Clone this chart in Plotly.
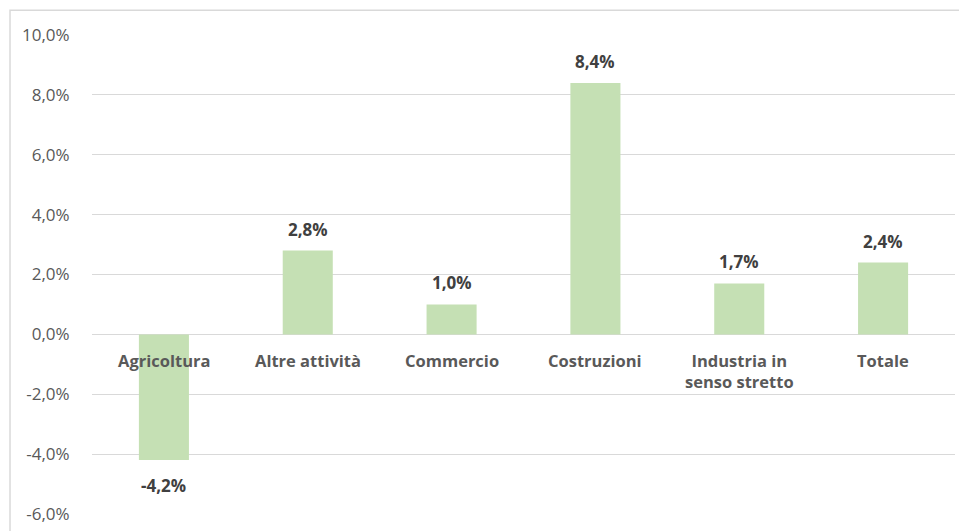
import plotly.graph_objects as go

categories = ["Agricoltura", "Altre attività", "Commercio", "Costruzioni", "Industria in<br>senso stretto", "Totale"]
values = [-4.2, 2.8, 1.0, 8.4, 1.7, 2.4]
tick_vals = [-6, -4, -2, 0, 2, 4, 6, 8, 10]
tick_text = ["-6,0%", "-4,0%", "-2,0%", "0,0%", "2,0%", "4,0%", "6,0%", "8,0%", "10,0%"]

FONT = "Open Sans"
BAR_COLOR = "#C5E0B4"

fig = go.Figure()
fig.add_trace(go.Bar(
    x=list(range(len(categories))),
    y=values,
    marker=dict(color=BAR_COLOR, line=dict(width=0)),
    hoverinfo="skip",
))

annotations = []
for i, (c, v) in enumerate(zip(categories, values)):
    label = f"{v:.1f}%".replace(".", ",")
    annotations.append(dict(
        x=i, y=v, xref="x", yref="y", text=f"<b>{label}</b>", showarrow=False,
        yanchor="bottom" if v >= 0 else "top", yshift=8 if v >= 0 else -12,
        font=dict(family=FONT, size=17, color="#404040"),
    ))
    annotations.append(dict(
        x=i, y=0, xref="x", yref="y", text=f"<b>{c}</b>", showarrow=False,
        yanchor="top", yshift=-13, align="center",
        font=dict(family=FONT, size=16.5, color="#595959"),
    ))

fig.update_layout(
    width=967, height=531,
    margin=dict(l=84, r=20, t=27, b=25),
    paper_bgcolor="white", plot_bgcolor="white",
    showlegend=False,
    bargap=0.652,
    annotations=annotations,
    xaxis=dict(range=[-0.5, len(categories) - 0.5], showticklabels=False, showgrid=False,
               zeroline=False, showline=False, ticks=""),
    yaxis=dict(range=[-6, 10], tickvals=tick_vals, ticktext=tick_text,
               showgrid=True, gridcolor="#D9D9D9", gridwidth=1,
               zeroline=True, zerolinecolor="#D9D9D9", zerolinewidth=1,
               showline=False, ticks="outside", ticklen=18, tickcolor="rgba(0,0,0,0)",
               tickfont=dict(family=FONT, size=17, color="#595959")),
    shapes=[dict(type="rect", xref="paper", yref="paper",
                 x0=-0.0950, x1=1.2, y0=-0.3, y1=1.0515,
                 line=dict(color="#D9D9D9", width=1.5), fillcolor="rgba(0,0,0,0)", layer="below")],
)

fig.write_html("out.html")
